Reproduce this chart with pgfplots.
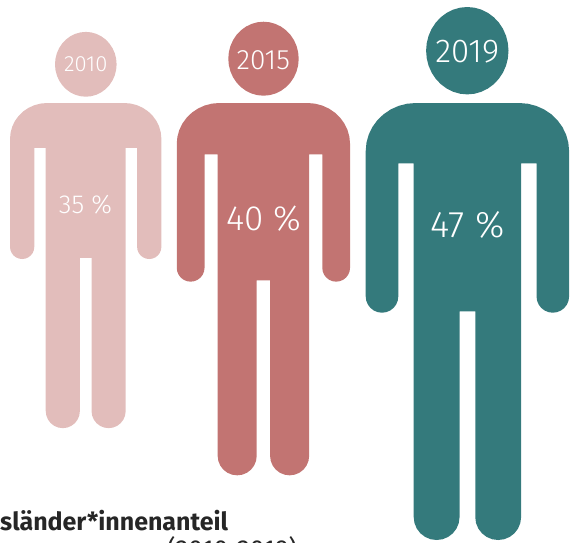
\documentclass[border=0pt]{standalone}
\usepackage{fontspec}
\setmainfont{Fira Sans}
\newfontfamily\lightfont{Fira Sans Light}
\usepackage{pgfplots}
\usepackage{pgfplotstable}
\pgfplotsset{compat=1.18}
\definecolor{p2010}{RGB}{226,189,187}
\definecolor{p2015}{RGB}{194,116,114}
\definecolor{p2019}{RGB}{52,122,124}

% body outline, sized for the tallest figure, x from the centre, y from the shoulders
\pgfplotstableread{
x y
51.7 0
60.4 0.73
68.8 2.89
76.7 6.43
83.84 11.23
90 17.15
95 24
98.68 31.58
100.94 39.66
101.7 48
101.7 193.4
101.14 197.62
99.52 201.55
96.93 204.93
93.55 207.52
89.62 209.14
85.4 209.7
81.18 209.14
77.25 207.52
73.87 204.93
71.28 201.55
69.66 197.62
69.1 193.4
69.1 60.3
53.7 60.3
53.7 414.1
52.92 420.03
50.63 425.56
46.99 430.31
42.24 433.95
36.71 436.24
30.78 437
24.84 436.24
19.31 433.95
14.56 430.31
10.92 425.56
8.63 420.03
7.85 414.1
7.85 208.3
-7.85 208.3
-7.85 414.1
-8.63 420.03
-10.92 425.56
-14.56 430.31
-19.31 433.95
-24.84 436.24
-30.78 437
-36.71 436.24
-42.24 433.95
-46.99 430.31
-50.63 425.56
-52.92 420.03
-53.7 414.1
-53.7 60.3
-69.1 60.3
-69.1 193.4
-69.66 197.62
-71.28 201.55
-73.87 204.93
-77.25 207.52
-81.18 209.14
-85.4 209.7
-89.62 209.14
-93.55 207.52
-96.93 204.93
-99.52 201.55
-101.14 197.62
-101.7 193.4
-101.7 48
-100.94 39.66
-98.68 31.58
-95 24
-90 17.15
-83.84 11.23
-76.7 6.43
-68.8 2.89
-60.4 0.73
-51.7 0
}\bodytable

% head outline
\pgfplotstableread{
x y
1 0
0.9848 0.1736
0.9397 0.342
0.866 0.5
0.766 0.6428
0.6428 0.766
0.5 0.866
0.342 0.9397
0.1736 0.9848
0 1
-0.1736 0.9848
-0.342 0.9397
-0.5 0.866
-0.6428 0.766
-0.766 0.6428
-0.866 0.5
-0.9397 0.342
-0.9848 0.1736
-1 0
-0.9848 -0.1736
-0.9397 -0.342
-0.866 -0.5
-0.766 -0.6428
-0.6428 -0.766
-0.5 -0.866
-0.342 -0.9397
-0.1736 -0.9848
0 -1
0.1736 -0.9848
0.342 -0.9397
0.5 -0.866
0.6428 -0.766
0.766 -0.6428
0.866 -0.5
0.9397 -0.342
0.9848 -0.1736
}\headtable

\begin{document}
\begin{tikzpicture}
\useasboundingbox (0,0) rectangle (570pt,542pt);
\begin{axis}[
    at={(0,0)},
    anchor=south west,
    width=570pt,
    height=542pt,
    scale only axis,
    hide axis,
    clip=false,
    xmin=0, xmax=570,
    ymin=0, ymax=542,
    y dir=reverse
]
% 2010
\addplot[fill=p2010, draw=none] table[x expr={85.7+0.744*\thisrow{x}}, y expr={103+0.744*\thisrow{y}}] {\bodytable};
\addplot[fill=p2010, draw=none] table[x expr={85.8+30.8*\thisrow{x}}, y expr={64.3+32.4*\thisrow{y}}] {\headtable};
% 2015
\addplot[fill=p2015, draw=none] table[x expr={263.4+0.852*\thisrow{x}}, y expr={103+0.852*\thisrow{y}}] {\bodytable};
\addplot[fill=p2015, draw=none] table[x expr={263.5+35.2*\thisrow{x}}, y expr={58.7+37*\thisrow{y}}] {\headtable};
% 2019
\addplot[fill=p2019, draw=none] table[x expr={467.4+\thisrow{x}}, y expr={103+\thisrow{y}}] {\bodytable};
\addplot[fill=p2019, draw=none] table[x expr={467.3+41.2*\thisrow{x}}, y expr={50.7+43.7*\thisrow{y}}] {\headtable};

\node[white, font=\lightfont\fontsize{22}{22}\selectfont] at (axis cs:85.8,64.5) {2010};
\node[white, font=\lightfont\fontsize{26}{26}\selectfont] at (axis cs:85.5,204.5) {35 \%};
\node[white, font=\lightfont\fontsize{28}{28}\selectfont] at (axis cs:263.3,60) {2015};
\node[white, font=\lightfont\fontsize{35}{35}\selectfont] at (axis cs:263.5,219) {40 \%};
\node[white, font=\lightfont\fontsize{33}{33}\selectfont] at (axis cs:467.3,52) {2019};
\node[white, font=\lightfont\fontsize{37}{37}\selectfont] at (axis cs:467.3,225) {47 \%};

\node[anchor=base west, inner sep=0pt, black!85, font=\bfseries\fontsize{25}{25}\selectfont] at (axis cs:0,530) {sländer*innenanteil};
\node[anchor=base west, inner sep=0pt, black!85, font=\fontsize{26}{26}\selectfont] at (axis cs:167,558) {(2010-2019)};
\end{axis}
\end{tikzpicture}
\end{document}
